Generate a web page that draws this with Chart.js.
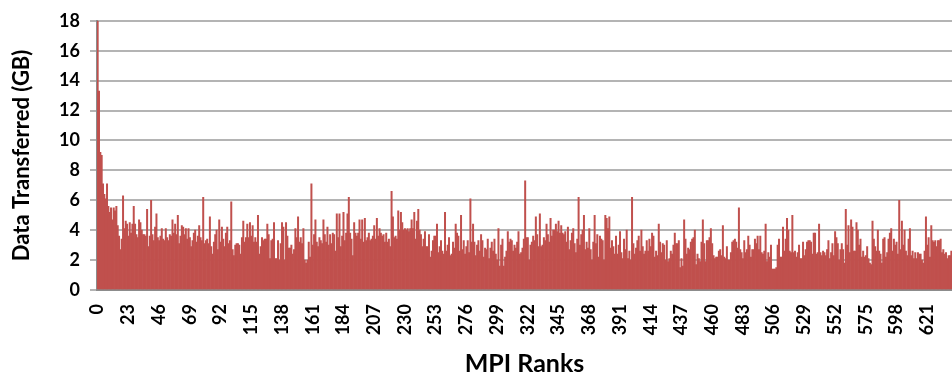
<!DOCTYPE html>
<html>
<head>
    <title>Data Transferred per MPI Rank</title>
    <script src="https://cdn.jsdelivr.net/npm/chart.js"></script>
    <style>
        body { margin: 0; background: #fff; }
    </style>
</head>
<body>
    <canvas id="rankChart" width="952" height="379"></canvas>
    <script>
    // GB transferred per MPI rank (0..639)
    const dataGB = [
        // 0-48
        18.0,13.3,9.2,9.0,7.1,6.4,6.1,7.1,5.6,5.2,5.5,4.7,5.5,5.3,5.6,4.3,3.6,2.7,3.4,6.3,
        4.1,4.6,4.4,3.6,4.5,3.8,4.4,5.6,4.4,3.7,3.5,4.7,4.5,4.0,3.7,3.7,3.6,5.4,2.9,3.6,
        6.0,3.7,3.3,4.2,5.1,3.5,3.3,3.6,4.1,
        // 49-104
        3.4,3.3,4.1,3.5,3.3,3.7,3.6,4.7,3.8,4.4,3.7,5.0,3.1,3.6,4.3,4.2,3.7,4.1,3.4,4.1,
        3.5,2.9,3.3,3.8,4.0,3.2,3.6,4.3,3.5,3.3,6.2,3.1,3.3,3.4,3.1,4.9,2.9,2.4,3.2,3.7,
        4.0,2.7,4.7,3.2,4.2,3.4,2.9,3.8,4.2,3.1,3.3,5.9,2.7,2.3,3.0,3.1,
        // 105-160
        3.1,3.0,2.4,3.5,4.6,3.2,3.5,4.4,3.5,4.5,3.6,4.3,3.2,3.5,3.2,5.0,2.4,2.9,3.5,3.3,
        3.4,3.4,4.4,3.7,2.1,3.3,3.4,4.5,2.1,2.1,3.3,2.0,3.1,4.5,4.2,2.0,4.5,3.6,2.8,2.8,
        3.0,2.4,2.7,4.1,3.5,4.9,3.2,3.5,3.1,4.1,2.0,1.8,2.0,3.2,2.2,7.1,
        // 161-214
        3.0,3.7,4.7,3.2,2.9,3.5,3.3,3.1,4.7,3.7,3.2,4.2,3.0,3.7,3.1,3.8,3.7,2.6,5.1,3.5,
        5.1,2.9,3.6,5.2,3.3,3.8,5.1,6.2,3.8,3.4,2.3,4.5,3.8,3.6,3.8,4.7,3.4,4.7,3.2,4.8,
        3.3,3.5,3.8,3.3,3.4,3.6,4.3,3.4,4.8,3.6,4.1,3.8,3.6,3.7,
        // 215-268
        3.2,3.8,3.2,3.4,2.9,6.6,4.9,3.5,3.6,3.4,5.3,4.0,5.2,4.5,4.0,4.1,4.0,4.1,3.9,4.1,
        4.7,4.1,5.2,3.4,4.6,5.4,4.0,3.7,2.9,3.4,3.9,2.9,2.9,3.7,2.2,2.6,3.3,3.6,3.6,4.4,
        2.5,2.9,3.3,2.6,2.4,5.2,2.6,3.0,3.5,2.3,2.4,3.2,2.8,4.4,
        // 269-323
        3.8,3.6,2.6,5.0,2.7,3.3,2.4,2.9,3.3,2.5,6.1,3.2,4.4,3.2,2.3,3.0,3.3,2.6,3.7,3.3,
        2.2,2.8,2.7,3.4,2.1,2.8,3.2,2.6,3.4,2.4,2.0,4.1,1.6,3.0,3.4,1.6,2.2,2.6,3.9,3.2,
        3.4,3.3,2.6,3.0,2.8,3.2,3.9,2.4,2.5,2.8,3.4,7.3,3.5,3.5,2.0,
        // 324-378
        3.0,3.2,3.6,3.3,4.9,3.7,2.9,5.1,2.9,3.0,3.5,3.3,4.4,3.7,3.2,4.8,3.6,4.0,4.0,4.4,
        3.9,4.6,3.8,4.3,3.8,3.7,3.9,3.2,4.2,2.7,3.3,3.8,4.1,3.1,2.5,3.4,6.2,3.0,3.7,4.0,
        5.0,2.7,3.2,2.8,4.1,2.7,2.0,3.2,5.0,3.1,3.7,2.2,3.6,3.4,3.3,
        // 379-433
        2.0,5.0,4.8,4.1,4.9,2.8,3.3,2.9,2.4,3.6,2.4,3.0,3.9,2.5,2.1,3.4,2.7,4.0,2.1,2.6,
        2.0,6.2,3.1,2.4,2.8,3.3,3.6,2.6,4.0,2.9,2.4,2.6,3.3,2.6,3.4,2.9,3.8,3.6,2.2,2.6,
        2.3,4.4,3.2,2.5,3.1,3.0,2.0,3.3,1.9,2.1,2.6,2.4,3.0,3.8,3.1,
        // 434-488
        3.1,3.3,1.5,2.1,1.6,4.7,3.4,2.4,2.8,2.7,3.2,3.4,3.5,4.0,1.7,2.4,2.1,1.9,3.2,4.7,
        3.1,1.9,3.3,3.3,3.5,4.1,3.1,2.3,2.1,2.2,2.2,2.6,2.7,2.3,4.3,2.2,2.1,2.9,2.0,2.0,
        2.5,3.2,3.3,3.4,3.2,2.8,5.5,2.7,2.5,2.1,3.3,2.5,2.7,3.6,3.0,
        // 489-543
        2.2,2.7,2.7,3.4,3.1,3.6,2.7,3.6,2.5,2.4,2.6,4.4,1.9,2.5,2.2,3.0,1.4,1.4,1.4,1.5,
        3.0,3.4,2.2,2.2,4.2,2.6,3.4,4.8,4.0,2.6,2.5,5.0,2.5,2.6,2.2,2.5,3.0,2.1,2.1,3.2,
        2.3,2.7,3.2,3.3,3.3,3.2,2.4,3.8,3.8,2.4,2.5,4.4,2.5,2.3,2.6,
        // 544-597
        2.5,2.3,2.7,3.3,2.1,2.5,3.1,2.3,3.9,3.5,3.1,2.0,2.7,3.1,2.7,1.8,5.4,3.0,4.3,2.5,
        4.7,4.2,2.6,2.6,4.5,4.0,3.0,3.4,2.2,2.6,2.2,2.3,2.9,2.1,1.8,1.7,4.6,3.4,2.9,2.6,
        4.0,2.6,2.4,1.8,3.4,3.5,2.2,2.5,3.4,3.8,4.1,2.6,3.4,3.0,
        // 598-639
        3.2,2.4,6.0,2.7,4.6,3.0,4.0,2.6,2.3,3.4,4.1,2.3,2.6,2.1,2.5,2.1,2.5,2.4,2.4,2.0,
        1.8,2.6,4.9,3.0,3.5,2.2,4.3,3.3,3.2,3.3,2.9,3.3,3.3,3.4,2.5,2.7,2.4,2.5,2.1,2.3,
        2.3,2.6
    ];
    const ranks = dataGB.map((v, i) => String(i));
    const rankLabelStep = 23;   // every 23rd rank gets a label
    const yTicks = [0, 2, 4, 6, 8, 10, 12, 14, 16, 18];

    const fontFam = 'Lato, "Liberation Sans", sans-serif';

    const ctx = document.getElementById('rankChart').getContext('2d');
    new Chart(ctx, {
        type: 'bar',
        data: {
            labels: ranks,
            datasets: [{
                label: 'Data Transferred (GB)',
                data: dataGB,
                backgroundColor: '#C0504D',
                borderWidth: 0,
                barPercentage: 1.0,
                categoryPercentage: 1.0
            }]
        },
        options: {
            responsive: false,
            animation: false,
            layout: { padding: { top: 17, right: 0, bottom: 0, left: 0 } },
            plugins: {
                legend: { display: false },
                tooltip: { enabled: false }
            },
            scales: {
                x: {
                    grid: { display: false },
                    border: { display: true, color: '#8C8C8C', width: 2 },
                    ticks: {
                        autoSkip: false,
                        minRotation: 90,
                        maxRotation: 90,
                        padding: 6,
                        color: '#000',
                        font: { family: fontFam, size: 18, weight: 'bold' },
                        callback: (val, idx) => idx % rankLabelStep === 0 ? ranks[idx] : ''
                    },
                    title: {
                        display: true,
                        text: 'MPI Ranks',
                        color: '#000',
                        font: { family: fontFam, size: 25, weight: 'bold' },
                        padding: { top: 0, bottom: 0 }
                    },
                    afterFit: (scale) => {
                        scale.height = 89;
                        scale.paddingLeft = 0;
                        scale.paddingRight = 0;
                    }
                },
                y: {
                    min: 0,
                    max: 18,
                    afterBuildTicks: (scale) => { scale.ticks = yTicks.map(v => ({ value: v })); },
                    grid: { color: '#B4B4B4', lineWidth: 2, tickLength: 7 },
                    border: { display: true, color: '#8C8C8C', width: 2 },
                    ticks: {
                        padding: 10,
                        color: '#000',
                        font: { family: fontFam, size: 18, weight: 'bold' }
                    },
                    title: {
                        display: true,
                        text: 'Data Transferred (GB)',
                        color: '#000',
                        font: { family: fontFam, size: 22, weight: 'bold' },
                        padding: { top: 9, bottom: 0 }
                    },
                    afterFit: (scale) => { scale.width = 97; }
                }
            }
        }
    });
    </script>
</body>
</html>
